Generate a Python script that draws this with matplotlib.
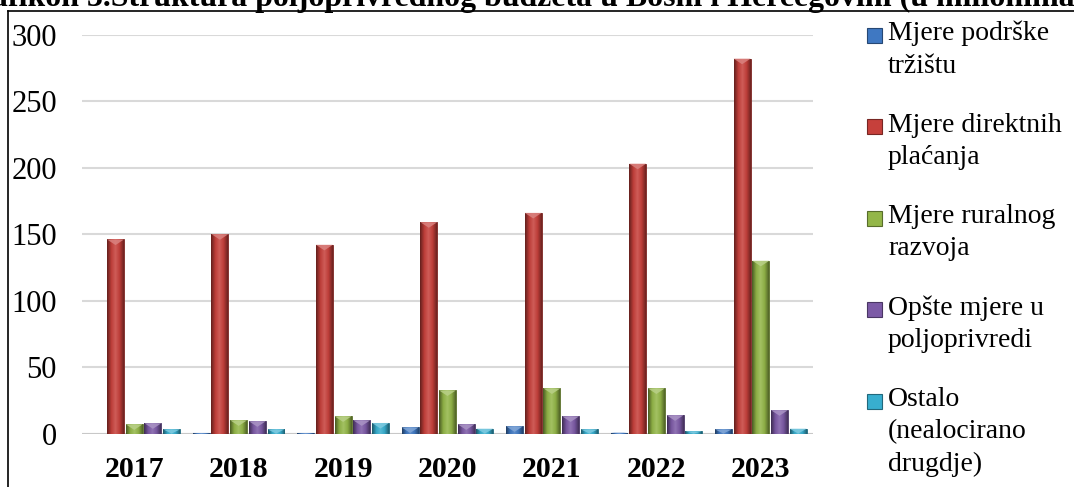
import numpy as np
import matplotlib.pyplot as plt
from matplotlib.colors import LinearSegmentedColormap, to_rgb
from matplotlib.patches import Polygon, Rectangle
from matplotlib.lines import Line2D

plt.rcParams['font.family'] = ['Liberation Serif', 'DejaVu Serif']

title = "Grafikon 3.Struktura poljoprivrednog budžeta u Bosni i Hercegovini (u milionima KM)"
years = ["2017", "2018", "2019", "2020", "2021", "2022", "2023"]

# u milionima KM
trziste = [0.0, 0.5, 0.5, 4.7, 5.5, 0.8, 3.2]
direktna = [146, 150, 142, 159, 166, 203, 282]
ruralni = [7, 10, 13, 32.5, 34, 34, 130]
opste = [7.8, 9.3, 10, 7, 13, 13.8, 17.6]
ostalo = [3.2, 3.2, 8, 3.7, 3.2, 1.7, 3.7]

labels = ["Mjere podrške\ntržištu",
          "Mjere direktnih\nplaćanja",
          "Mjere ruralnog\nrazvoja",
          "Opšte mjere u\npoljoprivredi",
          "Ostalo\n(nealocirano\ndrugdje)"]
series = [trziste, direktna, ruralni, opste, ostalo]
colors = ["#3f78c2", "#c6403b", "#93b648", "#7c5aa6", "#38aecf"]


def shade(c, f):
    r = np.array(to_rgb(c))
    if f < 1:
        return tuple(r * f)
    return tuple(r + (1 - r) * (f - 1))


fig = plt.figure(figsize=(10.74, 4.87), dpi=100)
ax = fig.add_axes([82 / 1074, 1 - 433.6 / 487, 731 / 1074, 398.9 / 487])

x = np.arange(len(years))
pitch = 0.179
width = 0.162

for k, (vals, col) in enumerate(zip(series, colors)):
    bars = ax.bar(x + (k - 2) * pitch, vals, width, color=col,
                  edgecolor=shade(col, 0.6), linewidth=0.6, zorder=3)
    cmap = LinearSegmentedColormap.from_list(
        "g%d" % k, [shade(col, 0.5), shade(col, 0.95), shade(col, 1.15),
                    shade(col, 0.95), shade(col, 0.55)])
    grad = np.linspace(0, 1, 64).reshape(1, -1)
    for b in bars:
        x0, w, h = b.get_x(), b.get_width(), b.get_height()
        if h <= 0:
            continue
        im = ax.imshow(grad, extent=(x0, x0 + w, 0, h), aspect='auto',
                       cmap=cmap, zorder=3.5, origin='lower')
        im.set_clip_path(b)
        d = min(4.2, h)
        tri = Polygon([[x0, h], [x0 + w, h], [x0 + w / 2, h - d]],
                      closed=True, facecolor=shade(col, 1.35),
                      edgecolor='none', alpha=0.85, zorder=4)
        ax.add_patch(tri)

ax.set_xlim(-0.5, 6.5)
ax.set_ylim(0, 300)
ax.set_yticks(range(0, 301, 50))
ax.set_xticks(x)
ax.set_xticklabels(years, fontsize=21.5, fontweight='bold')
ax.tick_params(axis='y', labelsize=22, length=0, pad=18)
ax.tick_params(axis='x', length=0, pad=16)
ax.yaxis.grid(True, color='#d9d9d9', linewidth=1.5, zorder=0)
ax.set_axisbelow(True)
for s in ax.spines.values():
    s.set_visible(False)
ax.axhline(0, color='#c8c8c8', linewidth=2.2, zorder=2)
ax.set_facecolor('none')

# legenda
lx, ly0, step = 867 / 1074, 35, 91.5
for k, (lab, col) in enumerate(zip(labels, colors)):
    yc = ly0 + k * step
    fig.patches.append(Rectangle((lx, 1 - (yc + 7.5) / 487), 15 / 1074, 15 / 487,
                                 transform=fig.transFigure, facecolor=col,
                                 edgecolor=shade(col, 0.6), linewidth=0.8))
    fig.text(888 / 1074, 1 - (yc - 14) / 487, lab, fontsize=20, va='top',
             ha='left', linespacing=1.38)

# naslov je odsjecen na vrhu; "poljoprivrednog" pocinje oko x=255,
# "milionima" zavrsava na desnoj ivici
fig.canvas.draw()
rend = fig.canvas.get_renderer()


def text_w(s, fs):
    t = fig.text(0, 0, s, fontsize=fs, fontweight='bold')
    wd = t.get_window_extent(rend).width
    t.remove()
    return wd


pre = "Grafikon 3.Struktura "
upto = title[:title.index("milionima") + len("milionima")]
fs = 20 * (1074 - 255) / (text_w(upto, 20) - text_w(pre, 20))
x_start = 255 - text_w(pre, fs)
fig.text(x_start / 1074, 1 - 6 / 487, title, fontsize=fs, fontweight='bold',
         va='baseline', ha='left')

fig.add_artist(Line2D([8 / 1074, 8 / 1074], [-0.1, 1 - 11 / 487],
                      transform=fig.transFigure, color='black', linewidth=1.2))
fig.add_artist(Line2D([8 / 1074, 1.1], [1 - 11 / 487, 1 - 11 / 487],
                      transform=fig.transFigure, color='black', linewidth=1.2))

fig.savefig("out.png", dpi=100)
